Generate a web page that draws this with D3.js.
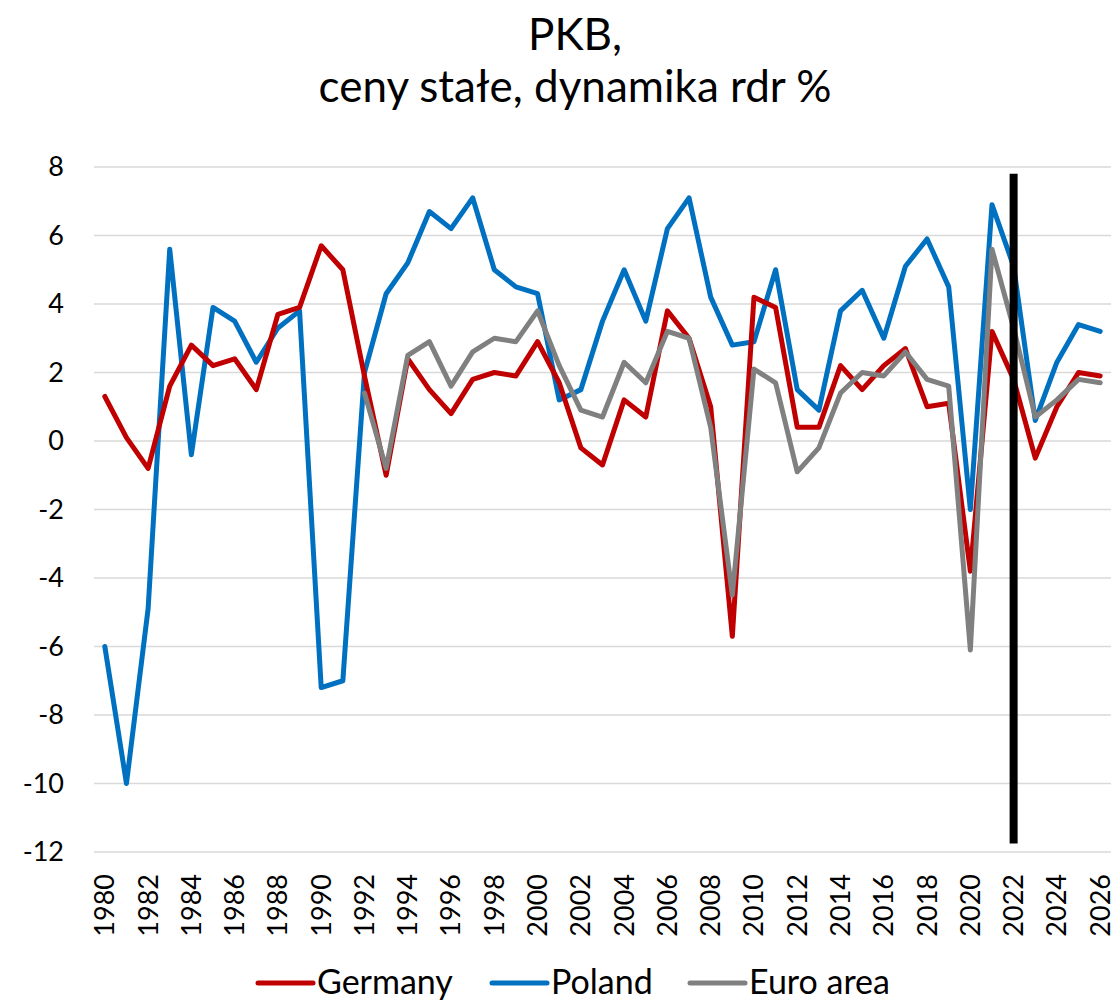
<!DOCTYPE html>
<html>
<head>
<meta charset="utf-8">
<script src="https://cdn.jsdelivr.net/npm/d3@7"></script>
<style>
  body { margin: 0; background: #fff; }
  text { font-family: Lato, "Open Sans", sans-serif; fill: #000; }
</style>
</head>
<body>
<svg id="chart"></svg>
<script>
// years on the category axis
const years = d3.range(1980, 2027);

// GDP growth, constant prices, % y/y
const germany = [1.3, 0.1, -0.8, 1.6, 2.8, 2.2, 2.4, 1.5, 3.7, 3.9,
  5.7, 5.0, 1.9, -1.0, 2.4, 1.5, 0.8, 1.8, 2.0, 1.9,
  2.9, 1.7, -0.2, -0.7, 1.2, 0.7, 3.8, 3.0, 1.0, -5.7,
  4.2, 3.9, 0.4, 0.4, 2.2, 1.5, 2.2, 2.7, 1.0, 1.1,
  -3.8, 3.2, 1.8, -0.5, 1.0, 2.0, 1.9];

const poland = [-6.0, -10.0, -4.9, 5.6, -0.4, 3.9, 3.5, 2.3, 3.3, 3.8,
  -7.2, -7.0, 2.0, 4.3, 5.2, 6.7, 6.2, 7.1, 5.0, 4.5,
  4.3, 1.2, 1.5, 3.5, 5.0, 3.5, 6.2, 7.1, 4.2, 2.8,
  2.9, 5.0, 1.5, 0.9, 3.8, 4.4, 3.0, 5.1, 5.9, 4.5,
  -2.0, 6.9, 5.1, 0.6, 2.3, 3.4, 3.2];

// euro area starts in 1992
const euroArea = [null, null, null, null, null, null, null, null, null, null,
  null, null, 1.4, -0.8, 2.5, 2.9, 1.6, 2.6, 3.0, 2.9,
  3.8, 2.2, 0.9, 0.7, 2.3, 1.7, 3.2, 3.0, 0.4, -4.5,
  2.1, 1.7, -0.9, -0.2, 1.4, 2.0, 1.9, 2.6, 1.8, 1.6,
  -6.1, 5.6, 3.3, 0.7, 1.2, 1.8, 1.7];

const yTicks = [-12, -10, -8, -6, -4, -2, 0, 2, 4, 6, 8];
const seriesNames = ["Germany", "Poland", "Euro area"];
const seriesColors = ["#C00000", "#0070C0", "#808080"];
const markerYear = 2022;          // vertical black line
const markerRange = [7.8, -11.75];

const width = 1115, height = 1003;
const margin = { top: 167, right: 4, bottom: 151, left: 94 };

const svg = d3.select("#chart")
  .attr("width", width)
  .attr("height", height);

const xScale = d3.scaleBand()
  .domain(years)
  .range([margin.left, width - margin.right])
  .padding(0);

const yScale = d3.scaleLinear()
  .domain([-12, 8])
  .range([height - margin.bottom, margin.top]);

const xPos = d => xScale(d) + xScale.bandwidth() / 2;

// title
svg.append("text")
  .attr("x", 575).attr("y", 50)
  .attr("text-anchor", "middle")
  .style("font-size", "44px")
  .text("PKB,");
svg.append("text")
  .attr("x", 575).attr("y", 102)
  .attr("text-anchor", "middle")
  .style("font-size", "44px")
  .text("ceny stałe, dynamika rdr %");

// gridlines
svg.append("g")
  .selectAll("line")
  .data(yTicks)
  .join("line")
  .attr("x1", margin.left)
  .attr("x2", width - margin.right)
  .attr("y1", d => yScale(d))
  .attr("y2", d => yScale(d))
  .attr("stroke", "#D9D9D9")
  .attr("stroke-width", 1.5);

// y axis labels (plain hyphen for negatives, like the source)
const yAxis = d3.axisLeft(yScale).tickValues(yTicks).tickSize(0).tickPadding(0)
  .tickFormat(d => String(d));
const yAxisG = svg.append("g")
  .attr("transform", `translate(64,0)`)
  .call(yAxis);
yAxisG.select(".domain").remove();
yAxisG.selectAll("text")
  .style("font-family", "Lato, sans-serif")
  .style("font-size", "27px")
  .attr("fill", "#000");

// x axis labels, every second year
const xAxis = d3.axisBottom(xScale)
  .tickValues(years.filter(y => y % 2 === 0))
  .tickSize(0);
const xAxisG = svg.append("g")
  .attr("transform", `translate(0,${height - margin.bottom})`)
  .call(xAxis);
xAxisG.select(".domain").remove();
xAxisG.selectAll("text")
  .style("font-family", "Lato, sans-serif")
  .style("font-size", "27px")
  .attr("fill", "#000")
  .attr("text-anchor", "end")
  .attr("dy", "0.35em")
  .attr("transform", "translate(0,22) rotate(-90)")
  .attr("y", 0)
  .attr("x", 0);

// lines
const line = d3.line()
  .defined(d => d.v !== null)
  .x(d => xPos(d.year))
  .y(d => yScale(d.v));

const allSeries = [germany, poland, euroArea].map((vals, i) => ({
  name: seriesNames[i],
  color: seriesColors[i],
  values: years.map((year, j) => ({ year: year, v: vals[j] }))
}));

// draw poland first, then germany, euro area on top (as in the picture)
const drawOrder = [1, 0, 2];
drawOrder.forEach(i => {
  svg.append("path")
    .datum(allSeries[i].values)
    .attr("fill", "none")
    .attr("stroke", allSeries[i].color)
    .attr("stroke-width", 5)
    .attr("stroke-linejoin", "round")
    .attr("stroke-linecap", "round")
    .attr("d", line);
});

// vertical marker line
svg.append("line")
  .attr("x1", xPos(markerYear)).attr("x2", xPos(markerYear))
  .attr("y1", yScale(markerRange[0])).attr("y2", yScale(markerRange[1]))
  .attr("stroke", "#000")
  .attr("stroke-width", 8);

// legend
const legendX = [258, 492, 690];
const legend = svg.append("g");
allSeries.forEach((s, i) => {
  legend.append("line")
    .attr("x1", legendX[i]).attr("x2", legendX[i] + 55)
    .attr("y1", 983).attr("y2", 983)
    .attr("stroke", s.color)
    .attr("stroke-width", 5)
    .attr("stroke-linecap", "round");
  legend.append("text")
    .attr("x", legendX[i] + 59)
    .attr("y", 994)
    .style("font-size", "34px")
    .text(s.name);
});
</script>
</body>
</html>
